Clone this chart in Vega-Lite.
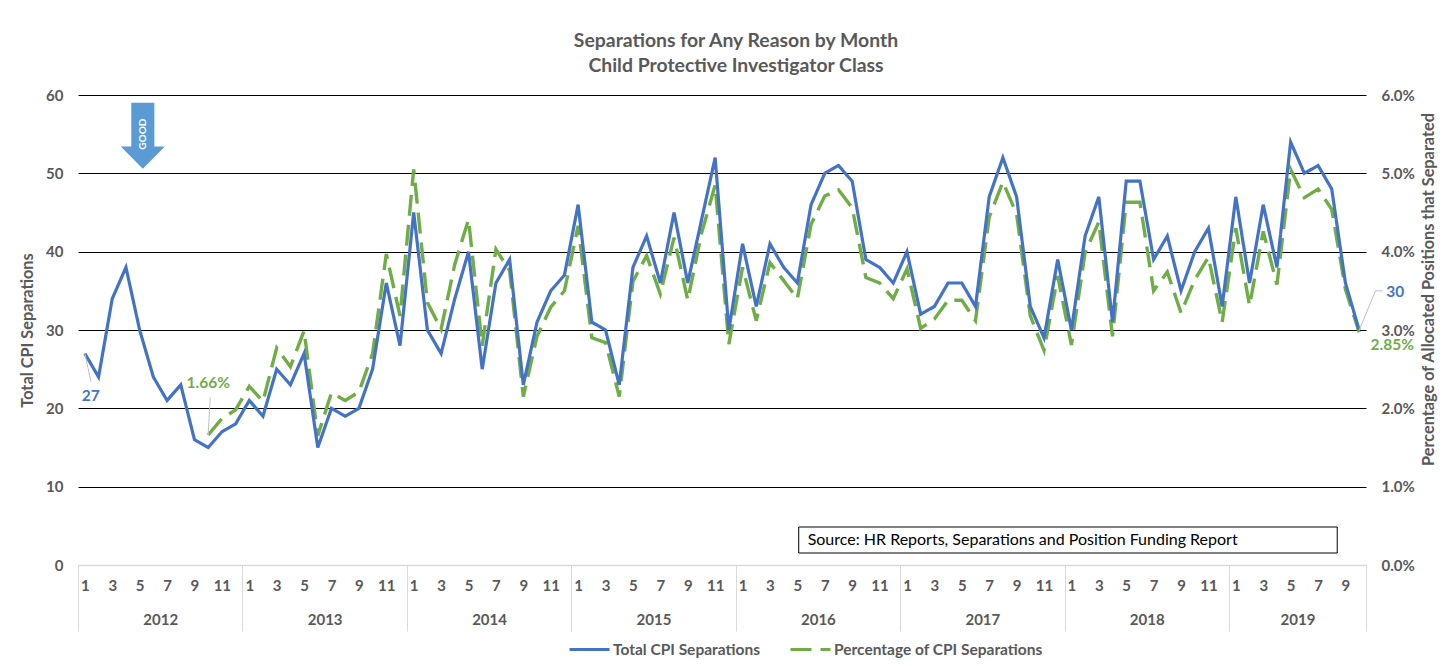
{
"$schema":"https://vega.github.io/schema/vega-lite/v6.json",
"width":1288,"height":470,
"autosize":{"type":"none"},
"padding":{"left":78,"top":95,"right":83,"bottom":101},
"background":"white",
"title":{"text":["Separations for Any Reason by Month","Child Protective Investigator Class"],"font":"Lato","fontSize":19.4,"fontWeight":"bold","color":"#595959","anchor":"middle","dx":14,"lineHeight":25,"offset":12},
"config":{"view":{"stroke":null},"axis":{"labelFont":"Lato","titleFont":"Lato","labelFontWeight":"bold","titleFontWeight":"bold","labelColor":"#595959","titleColor":"#595959","labelFontSize":15,"titleFontSize":16.3},"text":{"font":"Lato"}},
"datasets":{"main":[
{"n":0,"total":27},{"n":1,"total":24},{"n":2,"total":34},{"n":3,"total":38},{"n":4,"total":30},{"n":5,"total":24},{"n":6,"total":21},{"n":7,"total":23},{"n":8,"total":16},
{"n":9,"total":15,"pct":0.0166},{"n":10,"total":17,"pct":0.0187},{"n":11,"total":18,"pct":0.0198},
{"n":12,"total":21,"pct":0.0228},{"n":13,"total":19,"pct":0.0209},{"n":14,"total":25,"pct":0.0277},{"n":15,"total":23,"pct":0.0253},{"n":16,"total":27,"pct":0.0299},{"n":17,"total":15,"pct":0.0165},{"n":18,"total":20,"pct":0.022},{"n":19,"total":19,"pct":0.021},{"n":20,"total":20,"pct":0.0221},{"n":21,"total":25,"pct":0.027},{"n":22,"total":36,"pct":0.0397},{"n":23,"total":28,"pct":0.0318},
{"n":24,"total":45,"pct":0.0505},{"n":25,"total":30,"pct":0.0335},{"n":26,"total":27,"pct":0.0301},{"n":27,"total":34,"pct":0.0384},{"n":28,"total":40,"pct":0.0441},{"n":29,"total":25,"pct":0.028},{"n":30,"total":36,"pct":0.0403},{"n":31,"total":39,"pct":0.0376},{"n":32,"total":23,"pct":0.0215},{"n":33,"total":31,"pct":0.0292},{"n":34,"total":35,"pct":0.0329},{"n":35,"total":37,"pct":0.035},
{"n":36,"total":46,"pct":0.0433},{"n":37,"total":31,"pct":0.029},{"n":38,"total":30,"pct":0.0284},{"n":39,"total":23,"pct":0.0215},{"n":40,"total":38,"pct":0.0362},{"n":41,"total":42,"pct":0.0395},{"n":42,"total":36,"pct":0.0346},{"n":43,"total":45,"pct":0.0418},{"n":44,"total":36,"pct":0.0338},{"n":45,"total":44,"pct":0.0423},{"n":46,"total":52,"pct":0.0485},{"n":47,"total":30,"pct":0.0282},
{"n":48,"total":41,"pct":0.038},{"n":49,"total":33,"pct":0.0312},{"n":50,"total":41,"pct":0.0386},{"n":51,"total":38,"pct":0.0363},{"n":52,"total":36,"pct":0.034},{"n":53,"total":46,"pct":0.0435},{"n":54,"total":50,"pct":0.0471},{"n":55,"total":51,"pct":0.0479},{"n":56,"total":49,"pct":0.0456},{"n":57,"total":39,"pct":0.0367},{"n":58,"total":38,"pct":0.036},{"n":59,"total":36,"pct":0.034},
{"n":60,"total":40,"pct":0.0378},{"n":61,"total":32,"pct":0.0302},{"n":62,"total":33,"pct":0.0314},{"n":63,"total":36,"pct":0.0338},{"n":64,"total":36,"pct":0.0338},{"n":65,"total":33,"pct":0.0312},{"n":66,"total":47,"pct":0.0444},{"n":67,"total":52,"pct":0.0489},{"n":68,"total":47,"pct":0.0448},{"n":69,"total":33,"pct":0.0318},{"n":70,"total":29,"pct":0.0274},{"n":71,"total":39,"pct":0.0369},
{"n":72,"total":30,"pct":0.0281},{"n":73,"total":42,"pct":0.0399},{"n":74,"total":47,"pct":0.0438},{"n":75,"total":31,"pct":0.0292},{"n":76,"total":49,"pct":0.0463},{"n":77,"total":49,"pct":0.0463},{"n":78,"total":39,"pct":0.035},{"n":79,"total":42,"pct":0.0374},{"n":80,"total":35,"pct":0.0322},{"n":81,"total":40,"pct":0.0364},{"n":82,"total":43,"pct":0.0393},{"n":83,"total":33,"pct":0.031},
{"n":84,"total":47,"pct":0.043},{"n":85,"total":36,"pct":0.0331},{"n":86,"total":46,"pct":0.0426},{"n":87,"total":38,"pct":0.0358},{"n":88,"total":54,"pct":0.0505},{"n":89,"total":50,"pct":0.0469},{"n":90,"total":51,"pct":0.048},{"n":91,"total":48,"pct":0.0454},{"n":92,"total":36,"pct":0.0352},{"n":93,"total":30,"pct":0.0297}
],
"leaders":[
{"id":"a","n":0,"v":27},{"id":"a","n":0.45,"v":23.4},
{"id":"b","n":9,"v":16.6},{"id":"b","n":9.15,"v":21.4},
{"id":"c","n":93,"v":30},{"id":"c","n":94.2,"v":35},{"id":"c","n":94.7,"v":35}
],
"labels":[
{"n":0,"v":27,"t":"27","c":"blue"},{"n":93,"v":30,"t":"30","c":"blue"},{"n":9,"v":16.6,"t":"1.66%","c":"green"},{"n":93,"v":28.5,"t":"2.85%","c":"green"}
]},
"layer":[
{"data":{"name":"main"},"mark":{"type":"line","color":"#70AD47","strokeWidth":3.4},
 "encoding":{
  "x":{"field":"n","type":"quantitative","scale":{"domain":[-0.5,93.5],"nice":false,"zero":false},"axis":{"title":null,"values":[0,2,4,6,8,10,12,14,16,18,20,22,24,26,28,30,32,34,36,38,40,42,44,46,48,50,52,54,56,58,60,62,64,66,68,70,72,74,76,78,80,82,84,86,88,90,92],"labelExpr":"datum.value % 12 + 1","ticks":false,"grid":false,"domainColor":"#d9d9d9","domainWidth":1.5,"labelPadding":13,"labelBaseline":"top","labelOverlap":false,"labelFlush":false,"orient":"bottom"}},
  "y":{"field":"pct","type":"quantitative","scale":{"domain":[0,0.06],"nice":false},"axis":{"orient":"right","title":"Percentage of Allocated Positions that Separated","titleAngle":270,"values":[0,0.01,0.02,0.03,0.04,0.05,0.06],"format":".1%","ticks":false,"domain":false,"grid":false,"labelPadding":15,"titlePadding":22,"titleY":194}},
  "color":{"datum":"Percentage of CPI Separations","scale":{"domain":["Total CPI Separations","Percentage of CPI Separations"],"range":["#4472C4","#70AD47"]},"legend":{"title":null,"orient":"none","legendX":490,"legendY":533,"direction":"horizontal","symbolType":"stroke","symbolSize":1600,"symbolStrokeWidth":3,"labelFont":"Lato","labelFontWeight":"bold","labelFontSize":15.5,"labelColor":"#595959","labelLimit":400,"columnPadding":24,"labelOffset":2}},
  "strokeDash":{"datum":"Percentage of CPI Separations","scale":{"domain":["Total CPI Separations","Percentage of CPI Separations"],"range":[[1,0],[21,9]]},"legend":{"title":null}}
 }},
{"data":{"name":"main"},"mark":{"type":"line","color":"#4472C4","strokeWidth":3.2},
 "encoding":{
  "x":{"field":"n","type":"quantitative","scale":{"domain":[-0.5,93.5],"nice":false,"zero":false},"axis":{"title":null,"orient":"bottom","values":[-0.5,11.5,23.5,35.5,47.5,59.5,71.5,83.5,93.5],"labels":false,"tickSize":66,"tickColor":"#d9d9d9","tickWidth":1,"domain":false,"grid":false}},
  "y":{"field":"total","type":"quantitative","scale":{"domain":[0,60],"nice":false},"axis":{"orient":"left","title":"Total CPI Separations","values":[0,10,20,30,40,50,60],"ticks":false,"domain":false,"grid":true,"gridColor":{"condition":{"test":"datum.value===0","value":"transparent"},"value":"black"},"gridWidth":1,"gridOpacity":1,"labelPadding":15,"titlePadding":10}},
  "color":{"datum":"Total CPI Separations"},
  "strokeDash":{"datum":"Total CPI Separations"}
 }},
{"data":{"values":[{"n":5.5},{"n":17.5},{"n":29.5},{"n":41.5},{"n":53.5},{"n":65.5},{"n":77.5},{"n":88.5}]},
 "mark":{"type":"text","opacity":0},
 "encoding":{
  "x":{"field":"n","type":"quantitative","scale":{"domain":[-0.5,93.5],"nice":false,"zero":false},"axis":{"title":null,"orient":"bottom","values":[5.5,17.5,29.5,41.5,53.5,65.5,77.5,88.5],"labelExpr":"2012 + floor((datum.value + 0.5) / 12)","ticks":false,"domain":false,"grid":false,"labelPadding":47,"labelBaseline":"top","labelOverlap":false,"labelFlush":false}},
  "text":{"value":""}
 }},
{"data":{"name":"leaders"},"mark":{"type":"line","color":"#bfbfbf","strokeWidth":1},
 "encoding":{
  "x":{"field":"n","type":"quantitative","scale":{"domain":[-0.5,93.5],"nice":false,"zero":false},"axis":null},
  "y":{"field":"v","type":"quantitative","scale":{"domain":[0,60],"nice":false},"axis":null},
  "detail":{"field":"id"}
 }},
{"data":{"name":"labels"},"transform":[{"filter":"datum.t==='27'"}],"mark":{"type":"text","font":"Lato","fontWeight":"bold","fontSize":15.5,"color":"#4472C4","dx":6,"dy":42},
 "encoding":{"x":{"field":"n","type":"quantitative","scale":{"domain":[-0.5,93.5],"nice":false,"zero":false},"axis":null},"y":{"field":"v","type":"quantitative","scale":{"domain":[0,60],"nice":false},"axis":null},"text":{"field":"t"}}},
{"data":{"name":"labels"},"transform":[{"filter":"datum.t==='30'"}],"mark":{"type":"text","font":"Lato","fontWeight":"bold","fontSize":15.5,"color":"#4472C4","dx":36,"dy":-38},
 "encoding":{"x":{"field":"n","type":"quantitative","scale":{"domain":[-0.5,93.5],"nice":false,"zero":false},"axis":null},"y":{"field":"v","type":"quantitative","scale":{"domain":[0,60],"nice":false},"axis":null},"text":{"field":"t"}}},
{"data":{"name":"labels"},"transform":[{"filter":"datum.t==='1.66%'"}],"mark":{"type":"text","font":"Lato","fontWeight":"bold","fontSize":15.5,"color":"#70AD47","dy":-52},
 "encoding":{"x":{"field":"n","type":"quantitative","scale":{"domain":[-0.5,93.5],"nice":false,"zero":false},"axis":null},"y":{"field":"v","type":"quantitative","scale":{"domain":[0,60],"nice":false},"axis":null},"text":{"field":"t"}}},
{"data":{"name":"labels"},"transform":[{"filter":"datum.t==='2.85%'"}],"mark":{"type":"text","font":"Lato","fontWeight":"bold","fontSize":15.5,"color":"#70AD47","dx":33,"dy":3},
 "encoding":{"x":{"field":"n","type":"quantitative","scale":{"domain":[-0.5,93.5],"nice":false,"zero":false},"axis":null},"y":{"field":"v","type":"quantitative","scale":{"domain":[0,60],"nice":false},"axis":null},"text":{"field":"t"}}},
{"data":{"values":[{"n":4.23,"v":54.8}]},"mark":{"type":"point","filled":true,"color":"#5B9BD5","opacity":1,"size":4356,"shape":"M-0.35,-1L0.35,-1L0.35,0.33L0.667,0.33L0,1L-0.667,0.33L-0.35,0.33Z"},
 "encoding":{"x":{"field":"n","type":"quantitative","scale":{"domain":[-0.5,93.5],"nice":false,"zero":false},"axis":null},"y":{"field":"v","type":"quantitative","scale":{"domain":[0,60],"nice":false},"axis":null}}},
{"data":{"values":[{"n":4.23,"v":55,"t":"GOOD"}]},"mark":{"type":"text","font":"Lato","fontWeight":"bold","fontSize":10,"color":"white","angle":270},
 "encoding":{"x":{"field":"n","type":"quantitative","scale":{"domain":[-0.5,93.5],"nice":false,"zero":false},"axis":null},"y":{"field":"v","type":"quantitative","scale":{"domain":[0,60],"nice":false},"axis":null},"text":{"field":"t"}}},
{"data":{"values":[{"n":52.1,"n2":91.4,"v":4.85,"v2":1.53}]},"mark":{"type":"rect","fill":"white","stroke":"black","strokeWidth":1},
 "encoding":{"x":{"field":"n","type":"quantitative","scale":{"domain":[-0.5,93.5],"nice":false,"zero":false},"axis":null},"x2":{"field":"n2"},"y":{"field":"v","type":"quantitative","scale":{"domain":[0,60],"nice":false},"axis":null},"y2":{"field":"v2"}}},
{"data":{"values":[{"n":52.75,"v":3.19,"t":"Source: HR Reports, Separations and Position Funding Report"}]},"mark":{"type":"text","font":"Lato","fontSize":16,"color":"black","align":"left"},
 "encoding":{"x":{"field":"n","type":"quantitative","scale":{"domain":[-0.5,93.5],"nice":false,"zero":false},"axis":null},"y":{"field":"v","type":"quantitative","scale":{"domain":[0,60],"nice":false},"axis":null},"text":{"field":"t"}}}
],
"resolve":{"scale":{"y":"independent"},"axis":{"x":"independent"}}
}
